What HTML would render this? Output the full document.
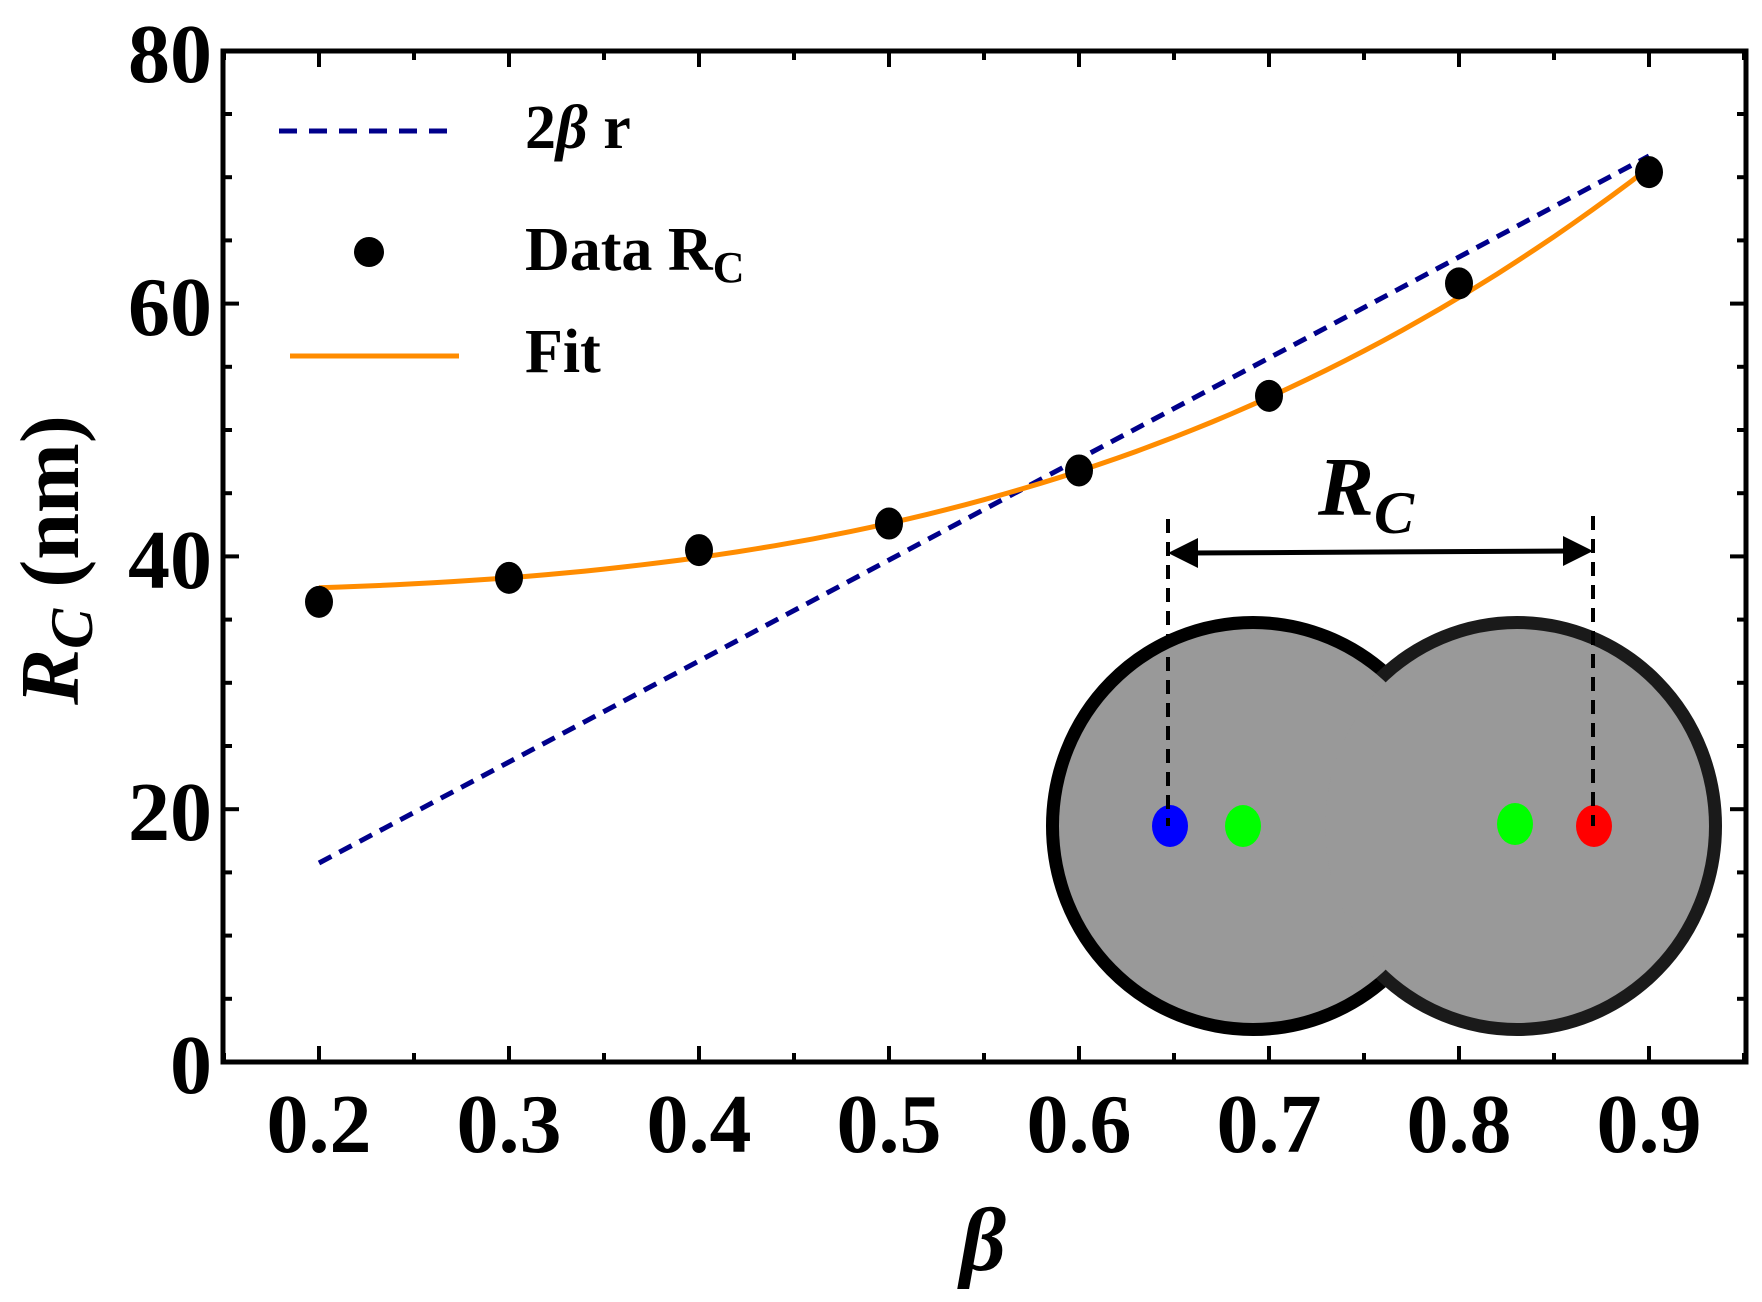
<!DOCTYPE html>
<html><head><meta charset="utf-8"><style>
html,body{margin:0;padding:0;background:#fff;}
svg{display:block;}
text{font-family:"Liberation Serif",serif;font-weight:bold;fill:#000;}
</style></head><body>
<svg id="s" width="1762" height="1302" viewBox="0 0 1762 1302" xmlns="http://www.w3.org/2000/svg">
<rect x="0" y="0" width="1762" height="1302" fill="#fff"/>
<g id="ticks" stroke="#000" stroke-width="4"></g>
<rect x="223" y="51" width="1523" height="1011" fill="none" stroke="#000" stroke-width="5"/>
<g font-size="84" text-anchor="end" id="ylab">
<text x="212" y="82">80</text>
<text x="212" y="335">60</text>
<text x="212" y="588">40</text>
<text x="212" y="840">20</text>
<text x="212" y="1093">0</text>
</g>
<g font-size="84" text-anchor="middle" id="xlab"></g>
<text x="983" y="1270" font-size="90" font-style="italic" text-anchor="middle">β</text>
<text transform="translate(78,560) rotate(-90)" font-size="84" text-anchor="middle"><tspan font-style="italic">R<tspan font-size="60" dy="14">C</tspan></tspan><tspan dy="-14"> (nm)</tspan></text>
<!-- inset -->
<g>
<ellipse cx="1253" cy="826" rx="200" ry="203" fill="none" stroke="#000" stroke-width="14"/>
<ellipse cx="1517" cy="826" rx="198" ry="203" fill="none" stroke="#1a1a1a" stroke-width="14"/>
<ellipse cx="1253" cy="826" rx="194" ry="197" fill="#999"/>
<ellipse cx="1517" cy="826" rx="192" ry="197" fill="#999"/>
<ellipse cx="1170" cy="826" rx="18" ry="21" fill="#0000ff"/>
<ellipse cx="1243" cy="826" rx="18" ry="21" fill="#00ff00"/>
<ellipse cx="1515" cy="824" rx="18" ry="21" fill="#00ff00"/>
<ellipse cx="1594" cy="826" rx="18" ry="21" fill="#ff0000"/>
<line x1="1168" y1="519" x2="1168" y2="826" stroke="#000" stroke-width="4" stroke-dasharray="14,9"/>
<line x1="1593" y1="516" x2="1593" y2="826" stroke="#000" stroke-width="4" stroke-dasharray="14,9"/>
<line x1="1190" y1="553" x2="1572" y2="551" stroke="#000" stroke-width="5"/>
<polygon points="1168,553 1198,538 1198,568" fill="#000"/>
<polygon points="1593,551 1563,536 1563,566" fill="#000"/>
<text x="1318" y="515" font-size="84" font-style="italic">R<tspan font-size="60" dy="18">C</tspan></text>
</g>
<!-- series -->
<line x1="319" y1="863" x2="1649" y2="156" stroke="#00008b" stroke-width="5" stroke-dasharray="14,9"/>
<path id="fit" fill="none" stroke="#ff8c00" stroke-width="5"/>
<g id="pts" fill="#000"></g>
<!-- legend -->
<line x1="279" y1="131" x2="452" y2="131" stroke="#00008b" stroke-width="5" stroke-dasharray="18,12"/>
<text x="525" y="148" font-size="62">2<tspan font-style="italic">β</tspan> r</text>
<circle cx="369" cy="252" r="15" fill="#000"/>
<text x="525" y="270" font-size="62">Data R<tspan font-size="44" dy="12">C</tspan></text>
<line x1="290" y1="356" x2="459" y2="356" stroke="#ff8c00" stroke-width="5"/>
<text x="525" y="372" font-size="62">Fit</text>
</svg>
<script>
var X=function(b){return 319+(b-0.2)*1900;},Y=function(v){return 1062-v*12.64;};
var t=document.getElementById('ticks'),h='';
for(var v=0;v<=80;v+=5){var y=Y(v),L=(v%20==0)?16:9;h+='<line x1="223" y1="'+y+'" x2="'+(223+L)+'" y2="'+y+'"/><line x1="1746" y1="'+y+'" x2="'+(1746-L)+'" y2="'+y+'"/>';}
for(var i=3;i<=19;i++){var b=i/20,x=X(b),L=(i%2==0)?16:9;h+='<line x1="'+x+'" y1="1062" x2="'+x+'" y2="'+(1062-L)+'"/><line x1="'+x+'" y1="51" x2="'+x+'" y2="'+(51+L)+'"/>';}
t.innerHTML=h;
var xl='';for(var i=2;i<=9;i++){xl+='<text x="'+X(i/10)+'" y="1152">0.'+i+'</text>';}
document.getElementById('xlab').innerHTML=xl;
var d='';for(var b=0.2;b<=0.9001;b+=0.01){var v=37.2+46.5*Math.pow(b,3.1);d+=(d?'L':'M')+X(b).toFixed(1)+','+Y(v).toFixed(1);}
document.getElementById('fit').setAttribute('d',d);
var data=[36.4,38.3,40.5,42.6,46.8,52.7,61.6,70.4],p='';
for(var i=0;i<8;i++){p+='<ellipse cx="'+X(0.2+i/10)+'" cy="'+Y(data[i])+'" rx="14" ry="16"/>';}
document.getElementById('pts').innerHTML=p;
</script>
</body></html>
